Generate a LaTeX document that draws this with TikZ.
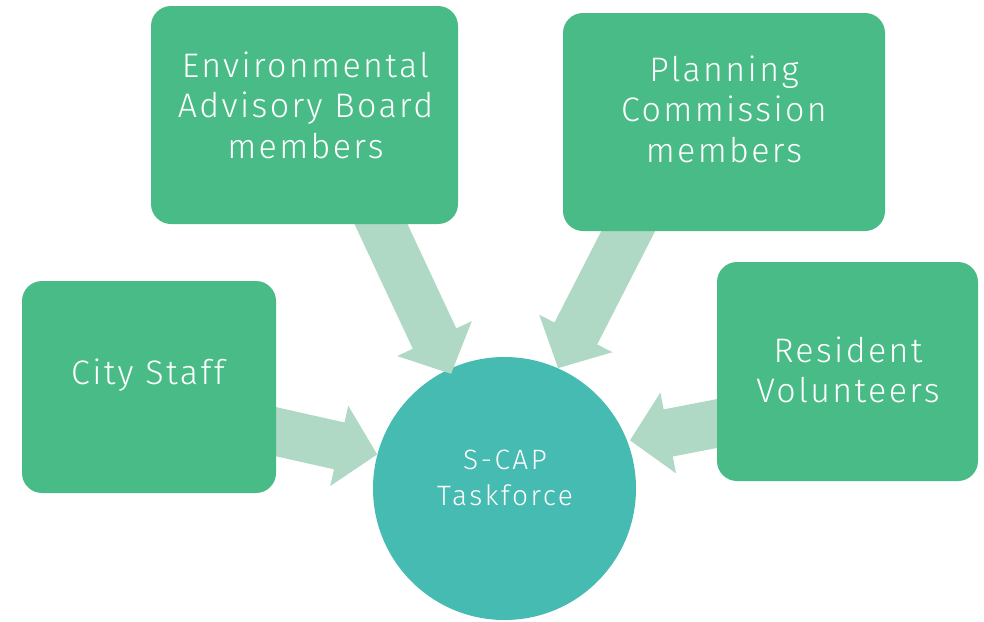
\documentclass[tikz,border=0pt]{standalone}
\usepackage{fontspec}
\setmainfont{Fira Sans Light}
\usetikzlibrary{arrows.meta,calc}
\pgfdeclarelayer{bottom}
\pgfdeclarelayer{mid}
\pgfsetlayers{bottom,mid,main}
\definecolor{boxgreen}{RGB}{72,187,135}
\definecolor{arrowgreen}{RGB}{175,217,196}
\definecolor{circteal}{RGB}{70,187,177}
\begin{document}
\begin{tikzpicture}[x=1pt,y=-1pt,
  box/.style={rectangle, rounded corners=20pt, fill=boxgreen, draw=none, inner sep=0pt},
  lbl/.style={text=white, align=center, font=\addfontfeatures{LetterSpace=7}\fontsize{34}{40.5}\selectfont, inner sep=0pt},
  hub/.style={circle, fill=circteal, draw=none, inner sep=0pt, minimum size=263pt},
  hublbl/.style={text=white, align=center, font=\addfontfeatures{LetterSpace=9}\fontsize{28}{36}\selectfont, inner sep=0pt},
  feed/.style={draw=arrowgreen, fill=arrowgreen, line width=48pt, -{Triangle[length=39pt,width=80pt]}}
]
\useasboundingbox (0,0) rectangle (984,621);

\begin{pgfonlayer}{bottom}
\node[hub] (hub) at (504.5,488.5) {};
\end{pgfonlayer}
\node[hublbl] (hubt) at (505,478) {S-CAP\\Taskforce};

\node[box, minimum width=307pt, minimum height=218pt] (eab) at (304.5,115) {};
\node[box, minimum width=322pt, minimum height=218pt] (pc) at (724,122) {};
\node[box, minimum width=254pt, minimum height=212pt] (cs) at (149,387) {};
\node[box, minimum width=261pt, minimum height=219pt] (rv) at (847.5,371.5) {};

\node[lbl] (eabt) at (305.5,105) {Environmental\\Advisory Board\\members};
\node[lbl] (pct) at (724,109) {Planning\\Commission\\members};
\node[lbl] (cst) at (148,375) {City Staff};
\node[lbl] (rvt) at (848,370) {Resident\\Volunteers};

\begin{pgfonlayer}{mid}
\coordinate (a1s) at ($(cs.east)+(-30,38)$);
\coordinate (a2s) at ($(eab.south)+(62.5,-30)$);
\coordinate (a3s) at ($(pc.south)+(-81,-29)$);
\coordinate (a4s) at ($(rv.west)+(26,47)$);
\coordinate (a2e) at ($(hub.center)!0.96!(hub.115)$);
\coordinate (a4e) at ($(hub.center)!1.02!(hub.21)$);
\draw[feed] (a1s) -- (hub.165);
\draw[feed] (a2s) -- (a2e);
\draw[feed] (a3s) -- (hub.66);
\draw[feed] (a4s) -- (a4e);
\end{pgfonlayer}
\end{tikzpicture}
\end{document}
